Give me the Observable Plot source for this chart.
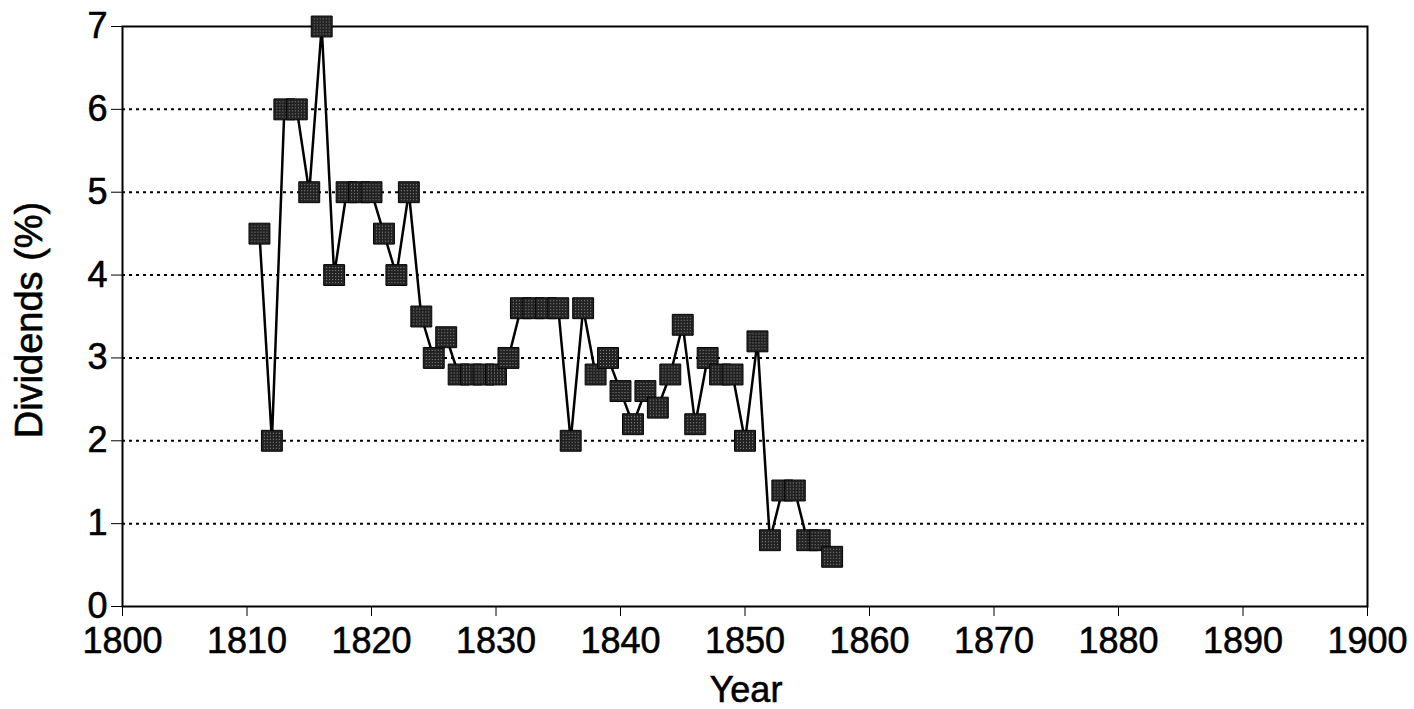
<!DOCTYPE html>
<html><head><meta charset="utf-8">
<script src="https://cdn.jsdelivr.net/npm/d3@7"></script>
<script src="https://cdn.jsdelivr.net/npm/@observablehq/plot@0.6"></script>
<style>body{margin:0;background:#fff} svg text{stroke:black;stroke-width:0.6px}</style>
</head><body><div id="chart"></div>
<script>
const years = [1811,1812,1813,1814,1815,1816,1817,1818,1819,1820,
  1821,1822,1823,1824,1825,1826,1827,1828,1829,1830,
  1831,1832,1833,1834,1835,1836,1837,1838,1839,1840,
  1841,1842,1843,1844,1845,1846,1847,1848,1849,1850,
  1851,1852,1853,1854,1855,1856,1857];
const dividends = [4.5,2.0,6.0,6.0,5.0,7.0,4.0,5.0,5.0,5.0,
  4.5,4.0,5.0,3.5,3.0,3.25,2.8,2.8,2.8,2.8,
  3.0,3.6,3.6,3.6,3.6,2.0,3.6,2.8,3.0,2.6,
  2.2,2.6,2.4,2.8,3.4,2.2,3.0,2.8,2.8,2.0,
  3.2,0.8,1.4,1.4,0.8,0.8,0.6];
const xTicks = [1800,1810,1820,1830,1840,1850,1860,1870,1880,1890,1900];
const yTicks = [0,1,2,3,4,5,6,7];
const gridValues = [1,2,3,4,5,6];
const xLabel = "Year";
const yLabel = "Dividends (%)";

const data = years.map((year, i) => ({year, value: dividends[i]}));

const W = 1414, H = 709;
const FONT = "'Liberation Sans', Arial, Helvetica, sans-serif";
const chart = Plot.plot({
  width: W, height: H,
  marginLeft: 122, marginRight: 47, marginTop: 26, marginBottom: 103,
  style: {fontFamily: FONT, fontSize: "36px", color: "black", background: "white", overflow: "visible"},
  x: {domain: [1800, 1900], ticks: xTicks, tickFormat: d => String(d), tickSize: 10, tickPadding: 11, label: null},
  y: {domain: [0, 7], ticks: yTicks, tickFormat: d => String(d), tickSize: 11, tickPadding: 4, label: null},
  marks: [
    Plot.ruleY(gridValues, {stroke: "black", strokeWidth: 2, strokeDasharray: "3,4"}),
    Plot.frame({stroke: "black", strokeWidth: 2}),
    Plot.line(data, {x: "year", y: "value", stroke: "black", strokeWidth: 2.5}),
    Plot.dot(data, {x: "year", y: "value", symbol: "square", r: 11.8, fill: "url(#stipple)", stroke: "black", strokeWidth: 1})
  ]
});

const svg = d3.select(chart);
const pat = svg.insert("defs", ":first-child").append("pattern")
  .attr("id", "stipple").attr("width", 3).attr("height", 3)
  .attr("patternUnits", "userSpaceOnUse");
pat.append("rect").attr("width", 3).attr("height", 3).attr("fill", "#222222");
pat.append("rect").attr("x", 1).attr("y", 1).attr("width", 1).attr("height", 1).attr("fill", "#8f8f8f");

svg.append("text").text(xLabel)
  .attr("x", 746).attr("y", 702)
  .attr("text-anchor", "middle").attr("font-family", FONT).attr("font-size", 36).attr("fill", "black");
svg.append("text").text(yLabel)
  .attr("transform", "translate(42,320) rotate(-90)")
  .attr("text-anchor", "middle").attr("font-family", FONT).attr("font-size", 38).attr("fill", "black");

document.getElementById("chart").appendChild(chart);
</script>
</body></html>
